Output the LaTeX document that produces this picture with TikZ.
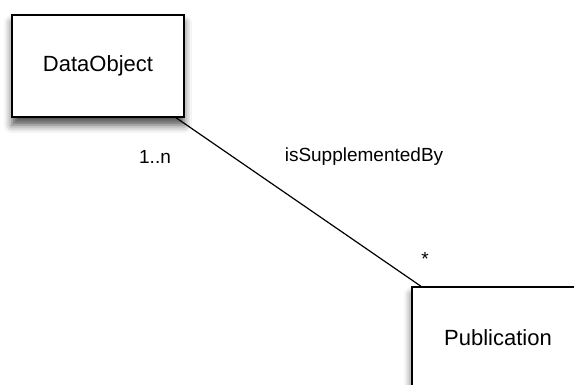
\documentclass[tikz,border=0pt]{standalone}
\usepackage{fontspec}
\setmainfont{Liberation Sans}
\usetikzlibrary{shadows.blur}
\begin{document}
\begin{tikzpicture}[x=1pt,y=-1pt,
  classbox/.style={draw=black, line width=1.8pt, fill=white, minimum width=172pt, minimum height=102pt, inner sep=0pt,
    blur shadow={shadow xshift=0pt, shadow yshift=-8pt, shadow blur radius=8pt, shadow opacity=70}, font=\fontsize{22}{26}\selectfont},
  lbl/.style={font=\fontsize{19}{22}\selectfont, inner sep=0pt},
  conn/.style={line width=1.2pt}]
\useasboundingbox (0,0) rectangle (574,385);
\node[classbox] (data) at (98,66) {DataObject};
\node[classbox] (pub) at (498,338) {Publication};
\coordinate (s) at (175,117);
\coordinate (e) at (422,287);
\draw[conn] (s) -- (e);
\node[lbl] (mult1) at (155,157) {1..n};
\node[lbl] (role) at (364,157) {isSupplementedBy};
\node[lbl] (mult2) at (425,259) {*};
\end{tikzpicture}
\end{document}
